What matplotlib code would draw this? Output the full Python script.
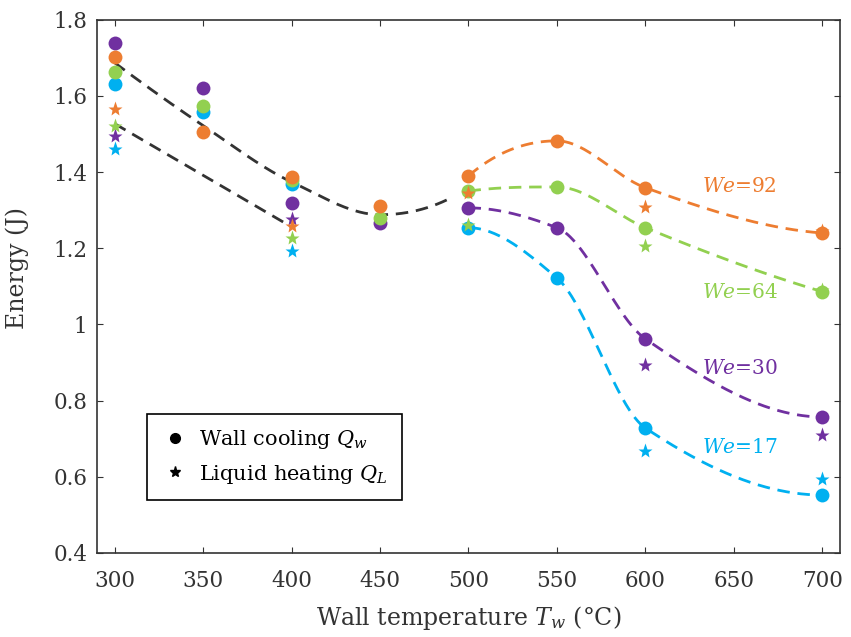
import numpy as np
import matplotlib
matplotlib.use("Agg")
import matplotlib.pyplot as plt
from matplotlib.lines import Line2D
from matplotlib.ticker import FormatStrFormatter

plt.rcParams['font.family'] = 'DejaVu Serif'
plt.rcParams['mathtext.fontset'] = 'dejavuserif'

# wall temperature (deg C)
temps = [300, 350, 400, 450, 500, 550, 600, 700]
nan = np.nan

# wall cooling Q_w (circles)
qw_92 = [1.701, 1.506, 1.388, 1.310, 1.390, 1.482, 1.359, 1.240]
qw_64 = [1.664, 1.574, 1.378, 1.280, 1.350, 1.361, 1.254, 1.086]
qw_30 = [1.740, 1.621, 1.319, 1.267, 1.306, 1.254, 0.962, 0.757]
qw_17 = [1.631, 1.559, 1.369, nan, 1.254, 1.122, 0.728, 0.552]

# liquid heating Q_L (stars)
ql_92 = [1.566, nan, 1.259, nan, 1.346, nan, 1.309, 1.245]
ql_64 = [1.522, nan, 1.227, nan, 1.262, nan, 1.206, 1.090]
ql_30 = [1.495, nan, 1.277, nan, nan, nan, 0.894, 0.710]
ql_17 = [1.461, nan, 1.193, nan, nan, nan, 0.668, 0.594]

# trend lines (knots of the dashed guides)
trend_hi_t = [300, 350, 400, 450, 490]
trend_hi_e = [1.687, 1.522, 1.374, 1.288, 1.332]
trend_lo_t = [300, 400]
trend_lo_e = [1.527, 1.256]

we_labels = ['92', '64', '30', '17']
we_label_y = [1.361, 1.083, 0.883, 0.676]
colors = ['#ED7D31', '#92D050', '#7030A0', '#00B0F0']


def pchip(x, y, xs):
    x = np.asarray(x, float); y = np.asarray(y, float)
    h = np.diff(x); d = np.diff(y) / h
    n = len(x)
    m = np.zeros(n)
    if n == 2:
        m[:] = d[0]
    else:
        for k in range(1, n - 1):
            if d[k - 1] * d[k] > 0:
                w1 = 2 * h[k] + h[k - 1]
                w2 = h[k] + 2 * h[k - 1]
                m[k] = (w1 + w2) / (w1 / d[k - 1] + w2 / d[k])

        def edge(h0, h1, m0, m1):
            s = ((2 * h0 + h1) * m0 - h0 * m1) / (h0 + h1)
            if np.sign(s) != np.sign(m0):
                s = 0.0
            elif np.sign(m0) != np.sign(m1) and abs(s) > 3 * abs(m0):
                s = 3 * m0
            return s
        m[0] = edge(h[0], h[1], d[0], d[1])
        m[-1] = edge(h[-1], h[-2], d[-1], d[-2])
    idx = np.clip(np.searchsorted(x, xs) - 1, 0, n - 2)
    t = (xs - x[idx]) / h[idx]
    h00 = 2 * t**3 - 3 * t**2 + 1
    h10 = t**3 - 2 * t**2 + t
    h01 = -2 * t**3 + 3 * t**2
    h11 = t**3 - t**2
    return (h00 * y[idx] + h10 * h[idx] * m[idx]
            + h01 * y[idx + 1] + h11 * h[idx] * m[idx + 1])


fig = plt.figure(figsize=(8.51, 6.37), dpi=100)
ax = fig.add_axes([0.114, 0.132, 0.873, 0.837])

dash = (0, (4.5, 2.8))
tt = np.linspace(trend_hi_t[0], trend_hi_t[-1], 200)
ax.plot(tt, pchip(trend_hi_t, trend_hi_e, tt), color='#333333', lw=2, ls=dash)
tt = np.linspace(trend_lo_t[0], trend_lo_t[-1], 50)
ax.plot(tt, pchip(trend_lo_t, trend_lo_e, tt), color='#333333', lw=2, ls=dash)

qw_all = [qw_92, qw_64, qw_30, qw_17]
ql_all = [ql_92, ql_64, ql_30, ql_17]
t_arr = np.array(temps, float)
for qw, c in zip(qw_all, colors):
    q = np.array(qw)
    sel = t_arr >= 500
    tt = np.linspace(500, 700, 300)
    ax.plot(tt, pchip(t_arr[sel], q[sel], tt), color=c, lw=2, ls=dash, zorder=2)

for qw, c in zip(qw_all[::-1], colors[::-1]):
    ax.plot(temps, qw, 'o', color=c, ms=10, mec='none', zorder=3)
for ql, c in zip(ql_all[::-1], colors[::-1]):
    ax.plot(temps, ql, '*', color=c, ms=11, mec='none', zorder=4)

for lab, y, c in zip(we_labels, we_label_y, colors):
    ax.text(632, y, r'$\mathit{We}$=' + lab, color=c, fontsize=14.5,
            va='center', ha='left')

ax.set_xlim(290, 710)
ax.set_ylim(0.4, 1.8)
ax.set_xticks(np.arange(300, 701, 50))
ax.set_yticks(np.arange(0.4, 1.81, 0.2))
ax.yaxis.set_major_formatter(FormatStrFormatter('%g'))
ax.tick_params(direction='in', top=True, right=True, length=4,
               labelsize=15.5, colors='#333333', labelcolor='#333333')
ax.tick_params(axis='x', pad=12)
ax.tick_params(axis='y', pad=7)
for s in ax.spines.values():
    s.set_color('#333333')
    s.set_linewidth(1.2)

ax.set_xlabel(r'Wall temperature $T_w$ (°C)', fontsize=17, color='#333333',
              labelpad=9)
ax.set_ylabel('Energy (J)', fontsize=17, color='#333333')
ax.yaxis.set_label_coords(-0.091, 0.535)

handles = [Line2D([], [], marker='o', color='black', ls='none', ms=7),
           Line2D([], [], marker='*', color='black', ls='none', ms=8)]
leg = ax.legend(handles, [r'Wall cooling $Q_w$', r'Liquid heating $Q_L$'],
                loc='lower left', bbox_to_anchor=(0.067, 0.099),
                borderaxespad=0, fontsize=15, fancybox=False, framealpha=1,
                edgecolor='black', handletextpad=0.5, borderpad=0.7,
                handlelength=1.3, labelspacing=0.55)
leg.get_frame().set_linewidth(1.2)

fig.savefig('out.png', dpi=100)
